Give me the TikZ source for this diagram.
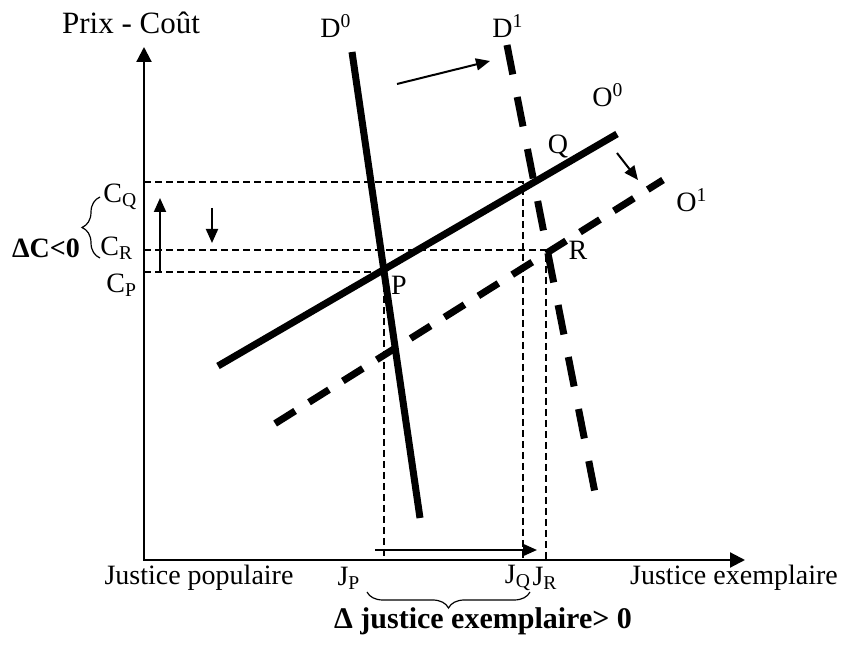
\documentclass[tikz,border=0pt]{standalone}
\usepackage{fontspec}
\setmainfont{Liberation Serif}
\usetikzlibrary{arrows.meta,decorations.pathreplacing}
\begin{document}
\begin{tikzpicture}[x=0.5pt,y=-0.5pt,
  lbl/.style={font=\fontsize{14}{16}\selectfont, inner sep=0pt},
  biglbl/.style={font=\fontsize{15.5}{18}\selectfont, inner sep=0pt},
  boldlbl/.style={font=\fontsize{14}{16}\selectfont\bfseries, inner sep=0pt},
  bigbold/.style={font=\fontsize{15}{18}\selectfont\bfseries, inner sep=0pt},
  axisline/.style={line width=1.1pt,{Triangle[length=7.5pt,width=7.5pt]}-{Triangle[length=7.5pt,width=7.5pt]}},
  curve/.style={line width=3.5pt},
  dcurveD/.style={line width=3.5pt,dash pattern=on 15pt off 11.5pt},
  dcurveO/.style={line width=3.5pt,dash pattern=on 11.8pt off 8.2pt,dash phase=15.8pt},
  guide/.style={line width=0.7pt,dash pattern=on 3.5pt off 2pt},
  shiftarrow/.style={line width=1pt,-{Triangle[length=7pt,width=6pt]}},
  bracedeco/.style={line width=0.6pt,decorate,decoration={brace,amplitude=#1}},
  ]
\useasboundingbox (0,0) rectangle (842,646);
% axes
\coordinate (O) at (144,560);
\coordinate (Ytop) at (144,47);
\coordinate (Xend) at (745,560);
\draw[axisline] (Ytop) -- (O) -- (Xend);
% curves
\coordinate (d0a) at (352,52);  \coordinate (d0b) at (420,518);
\coordinate (d1a) at (507,45);  \coordinate (d1b) at (597,503);
\coordinate (o0a) at (218,366); \coordinate (o0b) at (617,134);
\coordinate (o1a) at (268,428); \coordinate (o1b) at (663,180);
\draw[curve] (d0a) -- (d0b);
\draw[curve] (o0a) -- (o0b);
\draw[dcurveD] (d1a) -- (d1b);
\draw[dcurveO] (o1a) -- (o1b);
% equilibrium points and guides
\coordinate (P) at (384,272);
\coordinate (Q) at (523,182);
\coordinate (R) at (546,250);
\coordinate (yP) at (144,272); \coordinate (xP) at (384,560);
\coordinate (yQ) at (144,182); \coordinate (xQ) at (523,560);
\coordinate (yR) at (144,250); \coordinate (xR) at (546,560);
\draw[guide] (yQ) -- (Q) -- (xQ);
\draw[guide] (yR) -- (R) -- (xR);
\draw[guide] (yP) -- (P) -- (xP);
% shift arrows
\coordinate (da1) at (397,84);  \coordinate (da2) at (490,61);
\coordinate (oa1) at (617,153); \coordinate (oa2) at (638,180);
\coordinate (ua1) at (160,273); \coordinate (ua2) at (160,198);
\coordinate (dn1) at (212,208); \coordinate (dn2) at (212,243);
\coordinate (ha1) at (375,550); \coordinate (ha2) at (537,550);
\draw[shiftarrow] (da1) -- (da2);
\draw[shiftarrow] (oa1) -- (oa2);
\draw[shiftarrow] (ua1) -- (ua2);
\draw[shiftarrow] (dn1) -- (dn2);
\draw[shiftarrow] (ha1) -- (ha2);
% braces
\coordinate (lb1) at (100,258); \coordinate (lb2) at (100,197);
\draw[bracedeco=9pt] (lb1) -- (lb2);
\coordinate (bb1) at (530,592); \coordinate (bb2) at (367,592);
\draw[bracedeco=8pt] (bb1) -- (bb2);
% labels
\node[biglbl] (ylab) at (131,23) {Prix - Coût};
\node[lbl] (lD0) at (336,26) {D\textsuperscript{0}};
\node[lbl] (lD1) at (508,26) {D\textsuperscript{1}};
\node[lbl] (lO0) at (608,95) {O\textsuperscript{0}};
\node[lbl] (lO1) at (692,200) {O\textsuperscript{1}};
\node[lbl] (lQ) at (558,147) {Q};
\node[lbl] (lR) at (578,250) {R};
\node[lbl] (lP) at (399,285) {P};
\node[lbl,anchor=west] (lCQ) at (103,197) {C\textsubscript{Q}};
\node[lbl,anchor=west] (lCR) at (100,248) {C\textsubscript{R}};
\node[lbl,anchor=west] (lCP) at (106,285) {C\textsubscript{P}};
\node[boldlbl] (dC) at (46,248) {ΔC<0};
\node[lbl] (xl1) at (199,578) {Justice populaire};
\node[lbl] (lJP) at (349,578) {J\textsubscript{P}};
\node[lbl] (lJQ) at (518,578) {J\textsubscript{Q}};
\node[lbl] (lJR) at (545,578) {J\textsubscript{R}};
\node[lbl] (xl2) at (734,578) {Justice exemplaire};
\node[bigbold] (dJ) at (483,621) {Δ justice exemplaire> 0};
\end{tikzpicture}
\end{document}
